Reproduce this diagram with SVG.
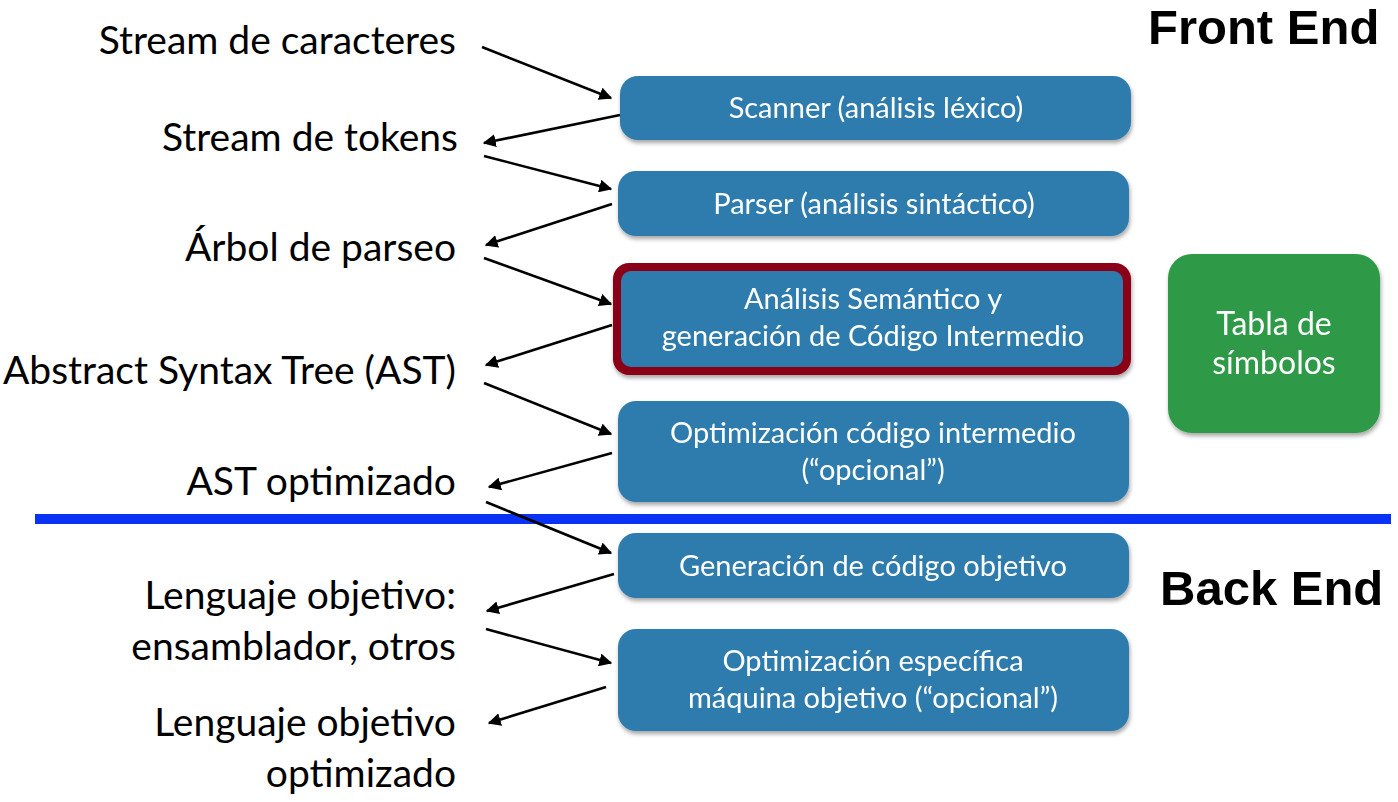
<svg xmlns="http://www.w3.org/2000/svg" width="1398" height="802" viewBox="0 0 1398 802">
<style>
.lbl{font-family:Lato,"Open Sans","Liberation Sans",sans-serif;font-size:39px;fill:#000;text-anchor:end}
.bx{fill:#2f7cad}
.bt{font-family:Lato,"Open Sans","Liberation Sans",sans-serif;font-size:29px;fill:#fff;text-anchor:middle}
.hd{font-family:"Liberation Sans",Arial,sans-serif;font-size:49px;font-weight:bold;fill:#000}
.con line{stroke:#000;stroke-width:2.6;marker-end:url(#ah)}
</style>
<defs>
<marker id="ah" viewBox="0 0 10 10" refX="9" refY="5" markerWidth="5" markerHeight="5" orient="auto" markerUnits="strokeWidth">
<path d="M0,0 L10,5 L0,10 Z" fill="#000"/>
</marker>
<filter id="sh" x="-5%" y="-10%" width="110%" height="130%">
<feDropShadow dx="1" dy="3" stdDeviation="2" flood-color="#000" flood-opacity="0.35"/>
</filter>
</defs>
<rect width="1398" height="802" fill="#fff"/>

<g id="labels">
<text class="lbl" x="456" y="54">Stream de caracteres</text>
<text class="lbl" x="458" y="151">Stream de tokens</text>
<text class="lbl" x="456" y="261">Árbol de parseo</text>
<text class="lbl" x="456" y="384">Abstract Syntax Tree (AST)</text>
<text class="lbl" x="456" y="495">AST optimizado</text>
<text class="lbl" x="456" y="609">Lenguaje objetivo:</text>
<text class="lbl" x="456" y="660">ensamblador, otros</text>
<text class="lbl" x="456" y="736">Lenguaje objetivo</text>
<text class="lbl" x="456" y="787">optimizado</text>
</g>

<g id="headers">
<text class="hd" x="1148" y="44">Front End</text>
<text class="hd" x="1160" y="605">Back End</text>
</g>

<rect id="separator" x="35" y="514" width="1356" height="10" fill="#0a32f5"/>

<g id="scanner" filter="url(#sh)">
<rect class="bx" x="620" y="76" width="511" height="64" rx="18"/>
<text class="bt" x="876" y="118">Scanner (análisis léxico)</text>
</g>
<g id="parser" filter="url(#sh)">
<rect class="bx" x="618" y="171" width="511" height="65" rx="18"/>
<text class="bt" x="874" y="214">Parser (análisis sintáctico)</text>
</g>
<g id="semantico" filter="url(#sh)">
<rect x="613" y="263" width="518" height="112" rx="16" fill="#8a0019"/>
<rect class="bx" x="621" y="271" width="502" height="96" rx="10"/>
<text class="bt" x="873" y="309">Análisis Semántico y</text>
<text class="bt" x="873" y="346">generación de Código Intermedio</text>
</g>
<g id="opt-intermedio" filter="url(#sh)">
<rect class="bx" x="618" y="401" width="511" height="101" rx="18"/>
<text class="bt" x="873" y="443">Optimización código intermedio</text>
<text class="bt" x="873" y="480">(“opcional”)</text>
</g>
<g id="gen-objetivo" filter="url(#sh)">
<rect class="bx" x="618" y="533" width="511" height="65" rx="18"/>
<text class="bt" x="873" y="576">Generación de código objetivo</text>
</g>
<g id="opt-especifica" filter="url(#sh)">
<rect class="bx" x="618" y="629" width="511" height="102" rx="18"/>
<text class="bt" x="873" y="671">Optimización específica</text>
<text class="bt" x="873" y="708">máquina objetivo (“opcional”)</text>
</g>
<g id="tabla" filter="url(#sh)">
<rect x="1168" y="254" width="212" height="179" rx="24" fill="#2e9a47"/>
<text class="bt" x="1274" y="335" style="font-size:32px">Tabla de</text>
<text class="bt" x="1274" y="374" style="font-size:32px">símbolos</text>
</g>

<g id="connectors" class="con">
<line x1="482" y1="47" x2="611" y2="98"/>
<line x1="620" y1="115" x2="484" y2="143"/>
<line x1="484" y1="156" x2="611" y2="189"/>
<line x1="612" y1="204" x2="486" y2="245"/>
<line x1="484" y1="258" x2="611" y2="304"/>
<line x1="612" y1="325" x2="486" y2="365"/>
<line x1="484" y1="383" x2="611" y2="434"/>
<line x1="612" y1="453" x2="489" y2="487"/>
<line x1="486" y1="502" x2="611" y2="553"/>
<line x1="614" y1="574" x2="487" y2="611"/>
<line x1="486" y1="629" x2="611" y2="663"/>
<line x1="606" y1="687" x2="489" y2="723"/>
</g>
</svg>
